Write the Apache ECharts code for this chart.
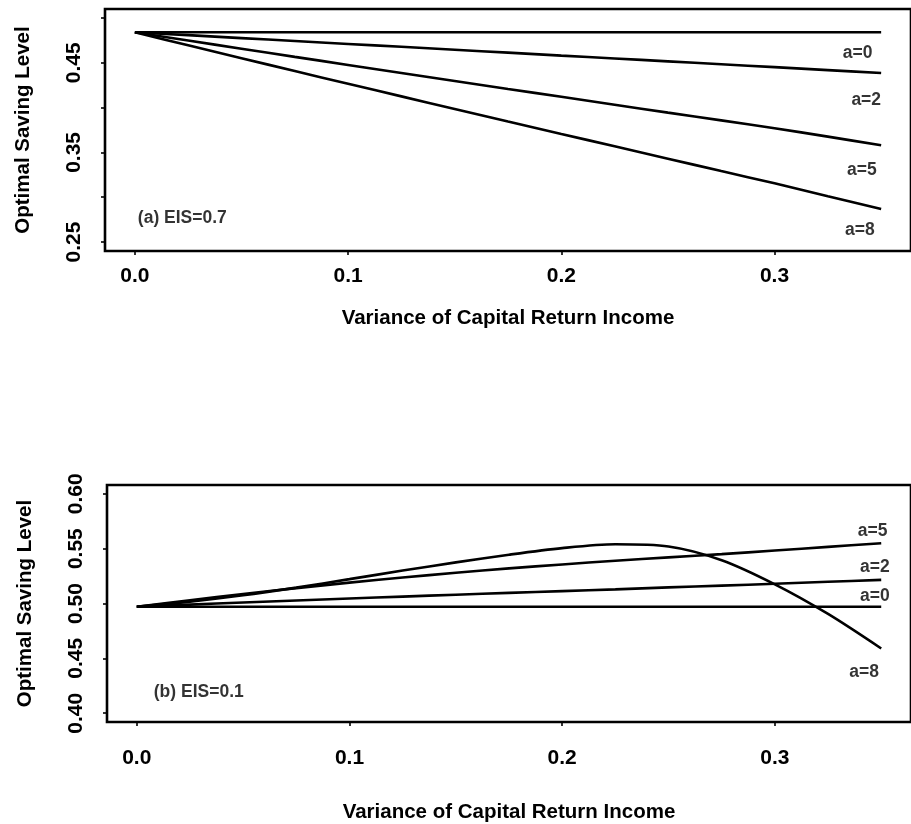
<!DOCTYPE html>
<html>
<head>
<meta charset="utf-8">
<script src="https://cdn.jsdelivr.net/npm/echarts@6/dist/echarts.min.js"></script>
<style>
  html, body { margin: 0; padding: 0; background: #fff; }
  #chart { width: 911px; height: 824px; }
</style>
</head>
<body>
<div id="chart"></div>
<script>
// Variance of capital return income (x values shared by every curve)
const variance = [0, 0.025, 0.05, 0.075, 0.1, 0.125, 0.15, 0.175, 0.2, 0.225, 0.25, 0.275, 0.3, 0.325, 0.35];

// Panel (a): EIS = 0.7, optimal saving level for each risk aversion a
const panelA_a0 = [0.4840, 0.4840, 0.4840, 0.4840, 0.4840, 0.4840, 0.4840, 0.4840, 0.4840, 0.4840, 0.4840, 0.4840, 0.4840, 0.4840, 0.4840];
const panelA_a2 = [0.4840, 0.4808, 0.4775, 0.4743, 0.4710, 0.4678, 0.4645, 0.4613, 0.4580, 0.4548, 0.4516, 0.4483, 0.4451, 0.4418, 0.4386];
const panelA_a5 = [0.4840, 0.4748, 0.4657, 0.4566, 0.4476, 0.4386, 0.4297, 0.4208, 0.4120, 0.4032, 0.3944, 0.3857, 0.3770, 0.3676, 0.3580];
const panelA_a8 = [0.4840, 0.4695, 0.4551, 0.4408, 0.4266, 0.4125, 0.3985, 0.3845, 0.3706, 0.3568, 0.3430, 0.3292, 0.3155, 0.3011, 0.2868];

// Panel (b): EIS = 0.1
const panelB_a0 = [0.4970, 0.4970, 0.4970, 0.4970, 0.4970, 0.4970, 0.4970, 0.4970, 0.4970, 0.4970, 0.4970, 0.4970, 0.4970, 0.4970, 0.4970];
const panelB_a2 = [0.4970, 0.4990, 0.5009, 0.5027, 0.5045, 0.5063, 0.5080, 0.5097, 0.5113, 0.5129, 0.5147, 0.5163, 0.5180, 0.5198, 0.5215];
const panelB_a5 = [0.4970, 0.5030, 0.5087, 0.5140, 0.5190, 0.5237, 0.5280, 0.5320, 0.5356, 0.5390, 0.5420, 0.5450, 0.5483, 0.5516, 0.5549];
const panelB_a8 = [0.4970, 0.5017, 0.5075, 0.5145, 0.5222, 0.5300, 0.5375, 0.5445, 0.5505, 0.5540, 0.5520, 0.5395, 0.5175, 0.4905, 0.4590];

// Axis ticks and labels
const xTicks = [0, 0.1, 0.2, 0.3];
const yTicksA = [0.25, 0.30, 0.35, 0.40, 0.45, 0.50];
const yLabelsA = [0.25, 0.35, 0.45];
const yTicksB = [0.40, 0.45, 0.50, 0.55, 0.60];

// Curve annotations: [text, x, y]
const curveLabelsA = [['a=0', 0.339, 0.461], ['a=2', 0.343, 0.4084], ['a=5', 0.341, 0.3303], ['a=8', 0.340, 0.2634]];
const curveLabelsB = [['a=5', 0.346, 0.5657], ['a=2', 0.347, 0.5333], ['a=0', 0.347, 0.5063], ['a=8', 0.342, 0.437]];
const panelTitleA = ['(a) EIS=0.7', 0.0014, 0.2767];
const panelTitleB = ['(b) EIS=0.1', 0.008, 0.419];

const FONT = '"Liberation Sans", Arial, Helvetica, sans-serif';
const pairs = ys => variance.map((x, i) => [x, ys[i]]);

function xAxisFor(gridIndex, labelMargin, nameGap) {
  return {
    gridIndex, type: 'value', min: -0.014, max: 0.364,
    name: 'Variance of Capital Return Income', nameLocation: 'middle', nameGap,
    nameTextStyle: { fontFamily: FONT, fontWeight: 'bold', fontSize: 20.5, color: '#000' },
    axisLine: { show: false, onZero: false }, splitLine: { show: false },
    axisTick: { show: true, length: 4, customValues: xTicks, lineStyle: { color: '#000', width: 1.6 } },
    axisLabel: { customValues: xTicks, formatter: v => v.toFixed(1), margin: labelMargin,
      fontFamily: FONT, fontWeight: 'bold', fontSize: 21, color: '#000' }
  };
}

function yAxisFor(gridIndex, min, max, ticks, labels) {
  return {
    gridIndex, type: 'value', min, max,
    name: 'Optimal Saving Level', nameLocation: 'middle', nameGap: 71, nameRotate: 90,
    nameTextStyle: { fontFamily: FONT, fontWeight: 'bold', fontSize: 20.5, color: '#000' },
    axisLine: { show: false, onZero: false }, splitLine: { show: false },
    axisTick: { show: true, length: 4, customValues: ticks, lineStyle: { color: '#000', width: 1.6 } },
    axisLabel: { customValues: labels, rotate: 90, margin: 20, formatter: v => v.toFixed(2),
      fontFamily: FONT, fontWeight: 'bold', fontSize: 21, color: '#000' }
  };
}

function curve(idx, ys) {
  return {
    type: 'line', xAxisIndex: idx, yAxisIndex: idx, data: pairs(ys),
    showSymbol: false, smooth: 0.3, silent: true,
    lineStyle: { color: '#000', width: 2.6 }
  };
}

// Text placed at data coordinates inside a panel
function annotations(idx, items, align) {
  return {
    type: 'scatter', xAxisIndex: idx, yAxisIndex: idx, symbolSize: 0, silent: true,
    itemStyle: { color: '#000' },
    data: items.map(([text, x, y]) => ({ name: text, value: [x, y] })),
    label: { show: true, position: 'inside', align: align, formatter: p => p.name,
      fontFamily: FONT, fontWeight: 'bold', fontSize: 17.5, color: '#000',
      textBorderWidth: 0, textBorderColor: 'transparent' }
  };
}

const chart = echarts.init(document.getElementById('chart'), null, { renderer: 'canvas' });
chart.setOption({
  animation: false,
  backgroundColor: '#fff',
  grid: [
    { left: 105, top: 9, right: -10, height: 242, show: true, borderColor: '#000', borderWidth: 2.6 },
    { left: 107, top: 485, right: -12, height: 240, show: true, borderColor: '#000', borderWidth: 2.6 }
  ],
  xAxis: [xAxisFor(0, 15, 57), xAxisFor(1, 26, 80)],
  yAxis: [
    yAxisFor(0, 0.24, 0.51, yTicksA, yLabelsA),
    yAxisFor(1, 0.392, 0.608, yTicksB, yTicksB)
  ],
  series: [
    curve(0, panelA_a0), curve(0, panelA_a2), curve(0, panelA_a5), curve(0, panelA_a8),
    curve(1, panelB_a0), curve(1, panelB_a2), curve(1, panelB_a5), curve(1, panelB_a8),
    annotations(0, curveLabelsA, 'center'),
    annotations(1, curveLabelsB, 'center'),
    annotations(0, [panelTitleA], 'left'),
    annotations(1, [panelTitleB], 'left')
  ]
});
</script>
</body>
</html>
